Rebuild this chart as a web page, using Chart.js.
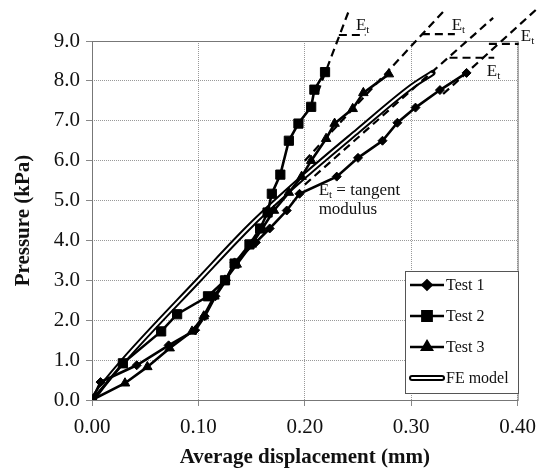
<!DOCTYPE html>
<html>
<head>
<meta charset="utf-8">
<script src="https://cdn.jsdelivr.net/npm/chart.js@4.4.1/dist/chart.umd.min.js"></script>
<style>
  body { margin: 0; background: #fff; }
  canvas { display: block; }
</style>
</head>
<body>
<canvas id="chart" width="545" height="470"></canvas>
<script>
// values (displacement in mm, pressure in kPa)
const test1X = [0, 0.008, 0.042, 0.072, 0.097, 0.106, 0.116, 0.126, 0.134, 0.154, 0.167, 0.183, 0.195, 0.23, 0.25, 0.273, 0.287, 0.304, 0.327, 0.352]
const test1Y = [0, 0.45, 0.87, 1.37, 1.75, 2.1, 2.6, 3.0, 3.45, 3.95, 4.3, 4.75, 5.17, 5.6, 6.07, 6.5, 6.95, 7.33, 7.77, 8.2]

const test2X = [0, 0.029, 0.065, 0.08, 0.109, 0.125, 0.134, 0.148, 0.158, 0.165, 0.169, 0.177, 0.185, 0.194, 0.206, 0.209, 0.219]
const test2Y = [0, 0.92, 1.72, 2.15, 2.6, 3.0, 3.42, 3.9, 4.3, 4.7, 5.17, 5.65, 6.5, 6.93, 7.35, 7.78, 8.22]

const test3X = [0, 0.031, 0.052, 0.073, 0.094, 0.105, 0.115, 0.125, 0.136, 0.15, 0.16, 0.171, 0.185, 0.197, 0.206, 0.22, 0.228, 0.245, 0.255, 0.279]
const test3Y = [0, 0.42, 0.83, 1.3, 1.72, 2.1, 2.6, 3.0, 3.4, 3.9, 4.3, 4.75, 5.2, 5.6, 6.0, 6.55, 6.93, 7.3, 7.7, 8.17]

const feX = [0, 0.01, 0.03, 0.1, 0.15, 0.2, 0.25, 0.3, 0.32]
const feY = [0, 0.36, 1.0, 3.0, 4.4, 5.62, 6.75, 7.85, 8.2]

// tangent modulus lines (E_t) and their short horizontal legs
const tan2X = [0.212, 0.242], tan2Y = [7.7, 9.8]
const leg2X = [0.232, 0.257], leg2Y = [9.15, 9.15]
const tan3X = [0.2, 0.333], tan3Y = [6.0, 9.82]
const leg3X = [0.31, 0.341], leg3Y = [9.17, 9.17]
const tanFeX = [0.2, 0.377], tanFeY = [5.4, 9.58]
const legFeX = [0.336, 0.378], legFeY = [8.58, 8.58]
const tan1X = [0.33, 0.418], tan1Y = [7.67, 9.8]
const leg1X = [0.373, 0.401], leg1Y = [8.93, 8.93]

const etLabelX = [0.248, 0.338, 0.371, 0.403]
const etLabelY = [9.275, 9.275, 8.125, 9.0]

const xTicks = [0, 0.1, 0.2, 0.3, 0.4]
const yTicks = [0, 1, 2, 3, 4, 5, 6, 7, 8, 9]

const legendNames = ["Test 1", "Test 2", "Test 3", "FE model"]

const SERIF = "'Liberation Serif', 'Times New Roman', serif"

const pts = (xs, ys) => xs.map((x, i) => ({ x: x, y: ys[i] }))

// lower order is drawn on top
const series = (label, xs, ys, style, radius, order) => ({
  label: label,
  data: pts(xs, ys),
  order: order,
  borderColor: "#000",
  backgroundColor: "#000",
  borderWidth: 2.6,
  pointStyle: style,
  pointRadius: radius,
  pointBorderWidth: 1,
  pointBackgroundColor: "#000",
  pointBorderColor: "#000",
  tension: 0,
})

const dashed = (xs, ys) => ({
  data: pts(xs, ys),
  order: 5,
  borderColor: "#000",
  borderWidth: 2.2,
  borderDash: [8, 5],
  pointRadius: 0,
  clip: false,
})

const sub = (ctx, x, y, size) => {
  ctx.font = size + "px " + SERIF
  ctx.textBaseline = "alphabetic"
  ctx.textAlign = "left"
  ctx.fillText("E", x, y)
  const w = ctx.measureText("E").width
  ctx.font = Math.round(size * 0.62) + "px " + SERIF
  ctx.fillText("t", x + w, y + 3)
  return w + ctx.measureText("t").width
}

const extras = {
  id: "extras",
  beforeDatasetsDraw(chart) {
    const { ctx, chartArea: a } = chart
    ctx.save()
    ctx.strokeStyle = "#777"
    ctx.lineWidth = 1
    ctx.strokeRect(a.left + 0.5, a.top + 0.5, a.right - a.left, a.bottom - a.top)
    ctx.restore()
  },
  afterDatasetsDraw(chart) {
    const { ctx, scales } = chart
    const px = (v) => scales.x.getPixelForValue(v)
    const py = (v) => scales.y.getPixelForValue(v)
    ctx.save()
    ctx.fillStyle = "#111"

    // E_t labels
    etLabelX.forEach((x, i) => sub(ctx, px(x), py(etLabelY[i]), 17))

    // note
    const w = sub(ctx, px(0.213), py(5.15), 17)
    ctx.font = "17px " + SERIF
    ctx.fillText(" = tangent", px(0.213) + w, py(5.15))
    ctx.fillText("modulus", px(0.213), py(4.675))

    // legend box
    const bx = 405, by = 271, bw = 113, bh = 122
    ctx.fillStyle = "#fff"
    ctx.fillRect(bx, by, bw, bh)
    ctx.strokeStyle = "#555"
    ctx.lineWidth = 1
    ctx.strokeRect(bx + 0.5, by + 0.5, bw, bh)

    const rows = [285, 316, 347, 378]
    const styles = ["rectRot", "rect", "triangle", null]
    const radii = [4.5, 6.5, 5.5, 0]
    rows.forEach((y, i) => {
      ctx.strokeStyle = "#000"
      if (styles[i]) {
        ctx.lineWidth = 2.6
        ctx.beginPath()
        ctx.moveTo(410, y)
        ctx.lineTo(444, y)
        ctx.stroke()
        ctx.fillStyle = "#000"
        Chart.helpers.drawPoint(ctx, { pointStyle: styles[i], radius: radii[i], borderWidth: 1 }, 427, y)
      } else {
        ctx.lineCap = "round"
        ctx.lineWidth = 6
        ctx.beginPath()
        ctx.moveTo(412, y)
        ctx.lineTo(442, y)
        ctx.stroke()
        ctx.strokeStyle = "#fff"
        ctx.lineWidth = 2
        ctx.stroke()
        ctx.lineCap = "butt"
      }
      ctx.fillStyle = "#111"
      ctx.font = "16px " + SERIF
      ctx.textBaseline = "middle"
      ctx.fillText(legendNames[i], 446, y + 1)
    })
    ctx.restore()
  },
}

new Chart(document.getElementById("chart"), {
  type: "line",
  data: {
    datasets: [
      { data: pts(feX, feY), order: 9, borderColor: "#000", borderWidth: 6, pointRadius: 0, borderCapStyle: "round", cubicInterpolationMode: "monotone" },
      { data: pts(feX, feY), order: 8, borderColor: "#fff", borderWidth: 2, pointRadius: 0, cubicInterpolationMode: "monotone" },
      dashed(tan2X, tan2Y), dashed(leg2X, leg2Y),
      dashed(tan3X, tan3Y), dashed(leg3X, leg3Y),
      dashed(tanFeX, tanFeY), dashed(legFeX, legFeY),
      dashed(tan1X, tan1Y), dashed(leg1X, leg1Y),
      series("Test 1", test1X, test1Y, "rectRot", 4.5, 2),
      series("Test 3", test3X, test3Y, "triangle", 5.5, 1),
      series("Test 2", test2X, test2Y, "rect", 6.5, 0),
    ],
  },
  options: {
    responsive: false,
    animation: false,
    layout: { padding: { top: 41, right: 21, left: 0, bottom: 0 } },
    plugins: { legend: { display: false }, tooltip: { enabled: false } },
    scales: {
      x: {
        type: "linear",
        min: 0,
        max: 0.4,
        afterFit: (s) => { s.height = 70 },
        afterBuildTicks: (s) => { s.ticks = xTicks.map((v) => ({ value: v })) },
        ticks: { color: "#111", font: { family: SERIF, size: 21 }, padding: 9, callback: (v) => v.toFixed(2) },
        grid: { color: "#999", tickColor: "#888", tickLength: 6, tickBorderDash: [] },
        border: { display: false, dash: [1, 1] },
        title: { display: true, text: "Average displacement (mm)", color: "#111", font: { family: SERIF, size: 21, weight: "bold" }, padding: { top: 0, bottom: 0 } },
      },
      y: {
        type: "linear",
        min: 0,
        max: 9,
        afterFit: (s) => { s.width = 92 },
        afterBuildTicks: (s) => { s.ticks = yTicks.map((v) => ({ value: v })) },
        ticks: { color: "#111", font: { family: SERIF, size: 21 }, padding: 6, callback: (v) => v.toFixed(1) },
        grid: { color: "#999", tickColor: "#888", tickLength: 6, tickBorderDash: [] },
        border: { display: false, dash: [1, 1] },
        title: { display: true, text: "Pressure (kPa)", color: "#111", font: { family: SERIF, size: 21, weight: "bold" }, padding: { top: 11, bottom: 0 } },
      },
    },
  },
  plugins: [extras],
})
</script>
</body>
</html>
